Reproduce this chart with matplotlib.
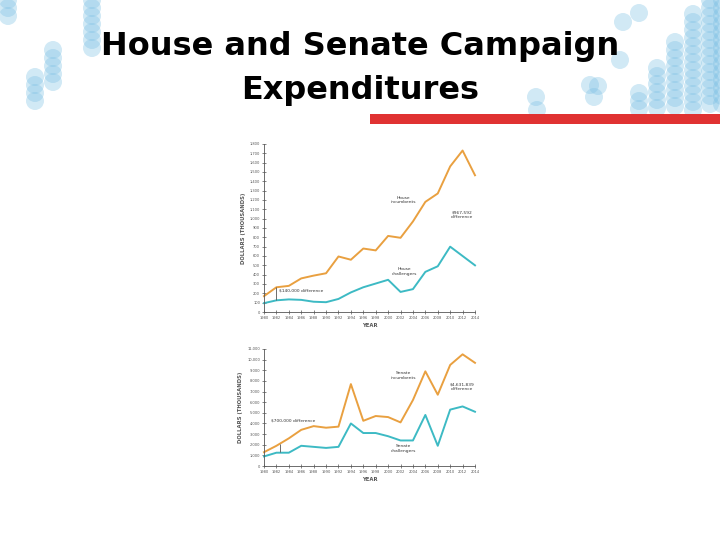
import matplotlib.pyplot as plt
from matplotlib.patches import Circle, Rectangle
from matplotlib.ticker import FuncFormatter

# data (thousands of dollars)
years = list(range(1980, 2015, 2))
house_inc = [170, 265, 280, 360, 390, 415, 595, 560, 680, 660, 815, 795,
             970, 1180, 1270, 1560, 1730, 1465]
house_chal = [95, 125, 135, 130, 110, 105, 140, 210, 265, 305, 345, 215,
              245, 430, 490, 700, 600, 500]
senate_inc = [1300, 1900, 2600, 3400, 3750, 3600, 3700, 7700, 4250, 4700,
              4600, 4100, 6200, 8900, 6700, 9500, 10500, 9700]
senate_chal = [900, 1250, 1250, 1900, 1800, 1700, 1800, 4000, 3100, 3100,
               2800, 2400, 2400, 4800, 1900, 5300, 5600, 5100]

ORANGE = '#e9a040'
TEAL = '#3dbac4'
GREY = '#555555'

fig = plt.figure(figsize=(7.2, 5.4), dpi=100)

# background decoration: columns of pale blue circles + red bar
bg = fig.add_axes([0, 0, 1, 1])
bg.set_xlim(0, 720)
bg.set_ylim(540, 0)
bg.axis('off')

columns = [(8, 0, 22), (92, 0, 50), (53, 50, 85), (35, 77, 108),
           (639, 93, 110), (657, 68, 110), (675, 42, 110), (693, 14, 110),
           (710, 0, 110), (722, 0, 110)]
singles = [(623, 22), (639, 13), (620, 60), (590, 85), (598, 86), (594, 97),
           (536, 97), (537, 110)]
for cx, y0, y1 in columns:
    y = y0
    while y <= y1:
        bg.add_patch(Circle((cx, y), 9, color='#7cc0e4', alpha=0.35, lw=0))
        y += 8
for cx, cy in singles:
    bg.add_patch(Circle((cx, cy), 9, color='#7cc0e4', alpha=0.35, lw=0))
bg.add_patch(Rectangle((370, 114), 350, 10, color='#e03232', lw=0))

bg.text(360, 47, 'House and Senate Campaign', ha='center', va='center',
        fontsize=23, fontweight='bold', color='black')
bg.text(360, 90, 'Expenditures', ha='center', va='center',
        fontsize=23, fontweight='bold', color='black')


def style(ax, ymax, ystep):
    ax.set_xlim(1980, 2014)
    ax.set_ylim(0, ymax)
    ax.set_xticks(years)
    ax.set_xticklabels([str(y) for y in years])
    ax.set_yticks(range(0, ymax + 1, ystep))
    ax.yaxis.set_major_formatter(FuncFormatter(lambda v, p: f'{int(v):,}'))
    for s in ['top', 'right']:
        ax.spines[s].set_visible(False)
    for s in ['left', 'bottom']:
        ax.spines[s].set_color(GREY)
        ax.spines[s].set_linewidth(0.6)
    ax.tick_params(direction='inout', length=2.5, width=0.5, colors=GREY,
                   labelsize=2.6, pad=1.5)
    ax.set_xlabel('YEAR', fontsize=3.8, fontweight='bold', color=GREY,
                  labelpad=2)
    ax.set_ylabel('DOLLARS (THOUSANDS)', fontsize=3.8, fontweight='bold',
                  color=GREY, labelpad=3)
    ax.patch.set_alpha(0)


# House chart
ax1 = fig.add_axes([264 / 720, 1 - 312 / 540, 211 / 720, 168 / 540])
ax1.plot(years, house_inc, color=ORANGE, lw=1.4, clip_on=False)
ax1.plot(years, house_chal, color=TEAL, lw=1.4, clip_on=False)
style(ax1, 1800, 100)
ax1.vlines(2014, house_chal[-1], house_inc[-1], color=GREY, lw=0.6)
ax1.vlines(1982, house_chal[1], house_inc[1], color=GREY, lw=0.6)
ax1.text(2002.4, 1200, 'House\nincumbents', ha='center', va='center',
         fontsize=3.2, color='#333333', linespacing=1.3)
ax1.text(2002.7, 430, 'House\nchallengers', ha='center', va='center',
         fontsize=3.2, color='#333333', linespacing=1.3)
ax1.text(2011.9, 1045, '$967,592\ndifference', ha='center', va='center',
         fontsize=3.2, color='#333333', linespacing=1.3)
ax1.text(1982.4, 235, '$140,000 difference', ha='left', va='center',
         fontsize=3.2, color='#333333')

# Senate chart
ax2 = fig.add_axes([264 / 720, 1 - 466 / 540, 211 / 720, 117 / 540])
ax2.plot(years, senate_inc, color=ORANGE, lw=1.4, clip_on=False)
ax2.plot(years, senate_chal, color=TEAL, lw=1.4, clip_on=False)
style(ax2, 11000, 1000)
ax2.vlines(2014, senate_chal[-1], senate_inc[-1], color=GREY, lw=0.6)
ax2.vlines(1982.6, 1300, 2100, color=GREY, lw=0.6)
ax2.text(2002.4, 8550, 'Senate\nincumbents', ha='center', va='center',
         fontsize=3.2, color='#333333', linespacing=1.3)
ax2.text(2002.4, 1640, 'Senate\nchallengers', ha='center', va='center',
         fontsize=3.2, color='#333333', linespacing=1.3)
ax2.text(2011.9, 7450, '$4,631,839\ndifference', ha='center', va='center',
         fontsize=3.2, color='#333333', linespacing=1.3)
ax2.text(1981.1, 4250, '$700,000 difference', ha='left', va='center',
         fontsize=3.2, color='#333333')

fig.savefig('out.png', dpi=100)
